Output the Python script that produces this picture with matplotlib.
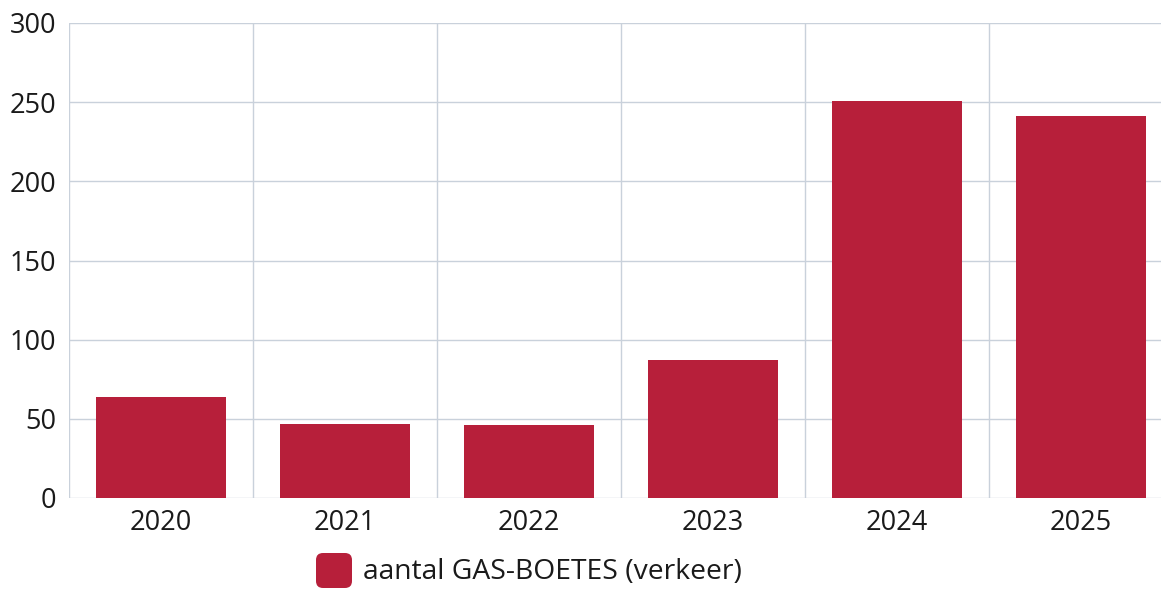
import matplotlib
matplotlib.use("Agg")
import matplotlib.pyplot as plt
from matplotlib.patches import FancyBboxPatch
import numpy as np

years = ["2020", "2021", "2022", "2023", "2024", "2025"]
boetes = [64, 47, 46, 87, 251, 241]
series_label = "aantal GAS-BOETES (verkeer)"
yticks = [0, 50, 100, 150, 200, 250, 300]

plt.rcParams['font.family'] = ['Open Sans', 'DejaVu Sans']
W, H = 1161, 589
fig = plt.figure(figsize=(W/100, H/100), dpi=100)
ax = fig.add_axes([69/W, 1-498/H, (1173-69)/W, (498-23)/H])

bar_color = "#B71F3A"
grid_color = "#C9D1DB"
x = np.arange(len(years))
ax.bar(x, boetes, width=0.707, color=bar_color, zorder=3)
ax.set_xlim(-0.5, len(years)-0.5)
ax.set_ylim(0, 300)
ax.set_yticks(yticks)
ax.set_yticklabels([str(v) for v in yticks], fontsize=19.5, color="#1a1a1a")
ax.set_xticks(x)
ax.set_xticklabels(years, fontsize=19.5, color="#1a1a1a")
ax.tick_params(length=0, pad=8)
ax.tick_params(axis='y', pad=9)
ax.yaxis.grid(True, color=grid_color, linewidth=1, zorder=0)
for b in np.arange(-0.5, len(years), 1.0):
    ax.axvline(b, color=grid_color, linewidth=1, zorder=0)
for s in ax.spines.values():
    s.set_visible(False)

# legend
patch = FancyBboxPatch((316/W, 1-588/H), 36/W, 35/H,
                       boxstyle="round,pad=0,rounding_size=0.006",
                       transform=fig.transFigure, facecolor=bar_color,
                       edgecolor="none", mutation_aspect=W/H)
fig.patches.append(patch)
fig.text(363/W, 1-572/H, series_label, fontsize=20.3, color="#1a1a1a",
         va="center", ha="left")

fig.savefig("out.png", dpi=100)
